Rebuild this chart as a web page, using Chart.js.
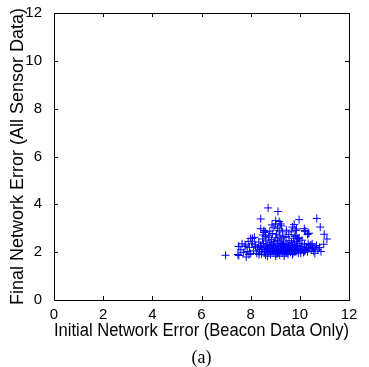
<!DOCTYPE html>
<html>
<head>
<meta charset="utf-8">
<script src="https://cdn.jsdelivr.net/npm/chart.js@4.4.1/dist/chart.umd.min.js"></script>
<style>
  html, body { margin: 0; padding: 0; background: #fff; }
</style>
</head>
<body>
<canvas id="scatter" width="369" height="367"></canvas>
<script>
// initial error (beacon only) vs final error (all sensors), one entry per network
const initialError = [
  6.98, 7.48, 7.52, 7.80, 8.07, 8.41, 8.71, 9.11, 8.54, 9.02, 9.22, 9.16, 9.77, 9.97, 10.18, 10.34,
  9.84, 9.97, 10.69, 10.83, 10.99, 11.10, 10.97, 10.86, 10.54, 10.34, 10.20, 10.37, 10.61, 9.86, 9.93,
  8.41, 8.61, 8.00, 8.07, 7.50, 7.77, 7.52, 7.86, 7.82, 8.20, 8.34,
  9.02, 9.16, 9.09, 8.54, 8.75, 8.88, 9.29, 9.70, 9.84, 9.90, 10.22, 10.31, 10.45, 10.52, 10.18, 10.04,
  9.70, 9.36, 9.02, 8.68, 8.34, 7.93,
  8.12, 8.18, 8.25, 8.28, 8.33, 8.36, 8.40, 8.44, 8.47, 8.49, 8.52, 8.55, 8.58, 8.60, 8.62, 8.65,
  8.67, 8.70, 8.72, 8.74, 8.77, 8.79, 8.81, 8.83, 8.85, 8.88, 8.90, 8.92, 8.94, 8.96, 8.98, 9.00,
  9.02, 9.04, 9.06, 9.08, 9.10, 9.12, 9.14, 9.16, 9.18, 9.20, 9.22, 9.24, 9.26, 9.28, 9.30, 9.32,
  9.34, 9.36, 9.38, 9.40, 9.42, 9.44, 9.46, 9.48, 9.50, 9.52, 9.54, 9.56, 9.58, 9.60, 9.62, 9.64,
  9.66, 9.68, 9.70, 9.72, 9.74, 9.76, 9.78, 9.80, 9.83, 9.86, 9.88, 9.91, 9.94, 9.97, 10.00, 10.03,
  10.06, 10.09, 10.12, 10.15, 10.19, 10.23, 10.27, 10.31, 10.36, 10.41, 10.46, 10.50, 10.56, 10.62, 10.68, 10.74,
  10.80,
  8.45, 8.68, 8.86, 9.03, 9.21, 9.37, 9.55, 9.71, 9.89, 8.57, 8.82, 9.09, 9.33, 9.61, 9.85, 8.93,
  9.27, 9.47, 9.69, 8.76, 9.13, 9.51, 8.99, 9.41, 8.63, 9.79,
  8.60, 8.78, 8.95, 9.05, 9.19, 9.35, 9.55, 9.25, 8.87, 9.65, 9.45, 8.50, 9.80,
  7.60, 7.70, 7.95, 8.00, 8.05, 7.90, 8.15, 7.65
];
const finalError = [
  1.87, 1.90, 2.24, 2.30, 2.57, 3.39, 3.85, 3.70, 2.91, 3.18, 3.18, 2.91, 3.16, 3.36, 2.98, 2.78,
  2.71, 2.60, 3.41, 3.05, 2.75, 2.55, 2.33, 2.03, 2.22, 2.36, 2.90, 2.79, 1.95, 2.97, 2.56,
  2.98, 2.85, 2.57, 2.44, 2.24, 2.24, 1.86, 2.03, 1.80, 2.24, 2.10,
  3.32, 3.28, 3.00, 2.82, 2.71, 2.78, 2.85, 3.05, 2.91, 2.57, 2.87, 2.74, 2.30, 2.17, 2.03, 1.96,
  1.90, 1.83, 1.83, 1.83, 1.90, 1.90,
  2.05, 2.31, 1.95, 2.18, 2.42, 2.02, 2.27, 1.92, 2.12, 2.55, 2.36, 2.01, 2.22, 1.88, 2.47, 2.10,
  2.30, 1.96, 2.62, 2.18, 2.05, 2.39, 1.90, 2.26, 2.52, 2.08, 2.15, 1.98, 2.34, 2.44, 2.03, 2.21,
  2.60, 1.93, 2.12, 2.29, 2.48, 2.00, 2.17, 2.38, 1.89, 2.24, 2.07, 2.55, 2.14, 1.97, 2.32, 2.05,
  2.43, 2.20, 1.94, 2.27, 2.10, 2.66, 2.02, 2.35, 2.16, 1.91, 2.23, 2.48, 2.06, 2.30, 1.99, 2.19,
  2.40, 2.09, 2.26, 1.95, 2.58, 2.13, 2.33, 2.01, 2.21, 2.45, 2.08, 2.28, 1.97, 2.16, 2.37, 2.05,
  2.24, 2.50, 2.12, 1.99, 2.31, 2.08, 2.20, 2.02, 2.15, 2.27, 2.09, 2.35, 2.04, 2.18, 2.28, 2.10,
  2.20,
  2.20, 2.14, 2.31, 2.09, 2.16, 2.06, 2.13, 2.18, 2.12, 2.04, 2.00, 1.95, 2.24, 2.11, 2.04, 2.22,
  2.36, 2.19, 2.03, 2.27, 2.06, 2.01, 2.13, 2.02, 2.19, 2.24,
  2.65, 2.88, 3.05, 2.75, 2.68, 2.62, 2.74, 3.10, 3.14, 2.85, 2.92, 2.72, 2.65,
  2.10, 1.98, 2.20, 1.95, 2.35, 2.45, 2.62, 2.35
];
const xTicks = [0, 2, 4, 6, 8, 10, 12];
const yTicks = [0, 2, 4, 6, 8, 10, 12];

const points = initialError.map((v, i) => ({ x: v, y: finalError[i] }));

// matlab style box with inward ticks on all four sides
const boxTicks = {
  id: 'boxTicks',
  afterDatasetsDraw(chart) {
    const { ctx, chartArea: a, scales: { x, y } } = chart;
    const len = 4;
    ctx.save();
    ctx.strokeStyle = '#000';
    ctx.lineWidth = 1;
    ctx.strokeRect(a.left + 0.5, a.top + 0.5, a.right - a.left, a.bottom - a.top);
    ctx.beginPath();
    xTicks.forEach(t => {
      const px = Math.round(x.getPixelForValue(t)) + 0.5;
      ctx.moveTo(px, a.bottom); ctx.lineTo(px, a.bottom - len);
      ctx.moveTo(px, a.top); ctx.lineTo(px, a.top + len);
    });
    yTicks.forEach(t => {
      const py = Math.round(y.getPixelForValue(t)) + 0.5;
      ctx.moveTo(a.left, py); ctx.lineTo(a.left + len, py);
      ctx.moveTo(a.right, py); ctx.lineTo(a.right - len, py);
    });
    ctx.stroke();
    ctx.restore();
  }
};

const tickFont = { family: 'Liberation Sans', size: 15 };
const titleFont = { family: 'Liberation Sans', size: 18 };

new Chart(document.getElementById('scatter'), {
  type: 'scatter',
  data: {
    datasets: [{
      data: points,
      pointStyle: 'cross',
      pointRadius: 4,
      pointBorderWidth: 1,
      borderColor: 'rgb(0, 0, 255)',
      backgroundColor: 'rgb(0, 0, 255)'
    }]
  },
  options: {
    responsive: false,
    animation: false,
    layout: { padding: { top: 5, right: 20, left: 0, bottom: 0 } },
    plugins: {
      legend: { display: false },
      tooltip: { enabled: false },
      title: {
        display: true,
        text: '(a)',
        position: 'bottom',
        fullSize: false,
        color: '#000',
        font: { family: 'Liberation Serif', size: 18, weight: 'normal', lineHeight: 1 },
        padding: 0
      }
    },
    scales: {
      x: {
        type: 'linear',
        min: 0,
        max: 12,
        grid: { display: false },
        border: { display: false },
        afterBuildTicks: s => { s.ticks = xTicks.map(v => ({ value: v })); },
        afterFit: s => { s.height = 49; },
        ticks: { color: '#000', font: tickFont, padding: -2, maxRotation: 0 },
        title: {
          display: true,
          text: 'Initial Network Error (Beacon Data Only)',
          color: '#000',
          font: titleFont,
          padding: { top: 0, bottom: 7 }
        }
      },
      y: {
        type: 'linear',
        min: 0,
        max: 12,
        grid: { display: false },
        border: { display: false },
        afterBuildTicks: s => { s.ticks = yTicks.map(v => ({ value: v })); },
        afterFit: s => { s.width = 54; },
        ticks: { color: '#000', font: tickFont, padding: 4 },
        title: {
          display: true,
          text: 'Final Network Error (All Sensor Data)',
          color: '#000',
          font: titleFont,
          padding: { top: 7, bottom: 0 }
        }
      }
    }
  },
  plugins: [boxTicks]
});
</script>
</body>
</html>
